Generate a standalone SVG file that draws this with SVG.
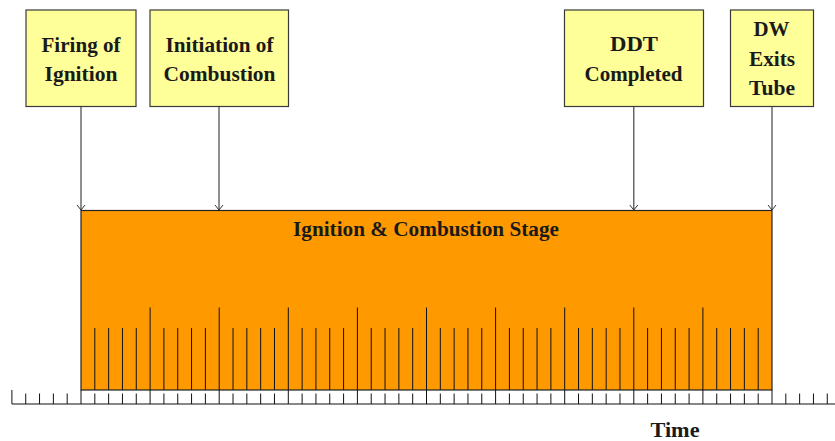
<svg xmlns="http://www.w3.org/2000/svg" width="835" height="441" viewBox="0 0 835 441">
  <style>
    .box { fill: #ffff99; stroke: #3a3a3a; stroke-width: 1.2; }
    .lbl { font-family: "Liberation Serif", "Times New Roman", serif; font-weight: bold; font-size: 21px; fill: #1a1a1a; text-anchor: middle; }
    .conn { stroke: #333; stroke-width: 1.1; fill: none; }
    .tick { stroke: #111; stroke-width: 1; fill: none; }
    .stage { fill: #ff9900; stroke: #222; stroke-width: 1.2; }
  </style>
  <defs>
    <marker id="vhead" markerUnits="userSpaceOnUse" markerWidth="8" markerHeight="10" refX="5" refY="0" viewBox="-1 -5 7 10" orient="auto">
      <path d="M0,-4 L5,0 L0,4" fill="none" stroke="#333" stroke-width="1"/>
    </marker>
  </defs>
  <rect width="835" height="441" fill="#ffffff"/>

  <!-- stage bar -->
  <g id="stage">
    <rect class="stage" x="81" y="210.5" width="691" height="179.5"/>
    <text class="lbl" x="426" y="236" textLength="266" lengthAdjust="spacingAndGlyphs">Ignition &amp; Combustion Stage</text>
    <!-- major ticks inside the bar -->
    <path class="tick" d="M150.1 307.5V390M219.2 307.5V390M288.3 307.5V390M357.4 307.5V390M426.5 307.5V390M495.6 307.5V390M564.7 307.5V390M633.8 307.5V390M702.9 307.5V390"/>
    <!-- minor ticks inside the bar -->
    <path class="tick" d="M94.82 328V390M108.64 328V390M122.46 328V390M136.28 328V390M163.92 328V390M177.74 328V390M191.56 328V390M205.38 328V390M233.02 328V390M246.84 328V390M260.66 328V390M274.48 328V390M302.12 328V390M315.94 328V390M329.76 328V390M343.58 328V390M371.22 328V390M385.04 328V390M398.86 328V390M412.68 328V390M440.32 328V390M454.14 328V390M467.96 328V390M481.78 328V390M509.42 328V390M523.24 328V390M537.06 328V390M550.88 328V390M578.52 328V390M592.34 328V390M606.16 328V390M619.98 328V390M647.62 328V390M661.44 328V390M675.26 328V390M689.08 328V390M716.72 328V390M730.54 328V390M744.36 328V390M758.18 328V390"/>
  </g>

  <!-- time axis -->
  <g id="axis">
    <path class="tick" d="M12 404H835"/>
    <path class="tick" d="M11.9 390V404M81 390V404M150.1 390V404M219.2 390V404M288.3 390V404M357.4 390V404M426.5 390V404M495.6 390V404M564.7 390V404M633.8 390V404M702.9 390V404M772 390V404"/>
    <path class="tick" d="M25.72 393.5V404M39.54 393.5V404M53.36 393.5V404M67.18 393.5V404M94.82 393.5V404M108.64 393.5V404M122.46 393.5V404M136.28 393.5V404M163.92 393.5V404M177.74 393.5V404M191.56 393.5V404M205.38 393.5V404M233.02 393.5V404M246.84 393.5V404M260.66 393.5V404M274.48 393.5V404M302.12 393.5V404M315.94 393.5V404M329.76 393.5V404M343.58 393.5V404M371.22 393.5V404M385.04 393.5V404M398.86 393.5V404M412.68 393.5V404M440.32 393.5V404M454.14 393.5V404M467.96 393.5V404M481.78 393.5V404M509.42 393.5V404M523.24 393.5V404M537.06 393.5V404M550.88 393.5V404M578.52 393.5V404M592.34 393.5V404M606.16 393.5V404M619.98 393.5V404M647.62 393.5V404M661.44 393.5V404M675.26 393.5V404M689.08 393.5V404M716.72 393.5V404M730.54 393.5V404M744.36 393.5V404M758.18 393.5V404M785.82 393.5V404M799.64 393.5V404M813.46 393.5V404M827.28 393.5V404"/>
    <text class="lbl" x="675" y="437" textLength="49" lengthAdjust="spacingAndGlyphs">Time</text>
  </g>

  <!-- event boxes -->
  <g id="firing">
    <rect class="box" x="26" y="10" width="110" height="96.5"/>
    <text class="lbl" x="81" y="51.5" textLength="79" lengthAdjust="spacingAndGlyphs">Firing of</text>
    <text class="lbl" x="81" y="81" textLength="73" lengthAdjust="spacingAndGlyphs">Ignition</text>
  </g>
  <g id="initiation">
    <rect class="box" x="150" y="10" width="138.5" height="96.5"/>
    <text class="lbl" x="219.5" y="51.5" textLength="108" lengthAdjust="spacingAndGlyphs">Initiation of</text>
    <text class="lbl" x="219.5" y="81" textLength="112" lengthAdjust="spacingAndGlyphs">Combustion</text>
  </g>
  <g id="ddt">
    <rect class="box" x="564.5" y="10" width="139" height="96.5"/>
    <text class="lbl" x="634" y="50.5" textLength="48" lengthAdjust="spacingAndGlyphs">DDT</text>
    <text class="lbl" x="633.5" y="81" textLength="98" lengthAdjust="spacingAndGlyphs">Completed</text>
  </g>
  <g id="dw-exit">
    <rect class="box" x="730.5" y="10" width="83" height="96.5"/>
    <text class="lbl" x="771.5" y="35.5" textLength="36" lengthAdjust="spacingAndGlyphs">DW</text>
    <text class="lbl" x="772" y="65.5" textLength="46" lengthAdjust="spacingAndGlyphs">Exits</text>
    <text class="lbl" x="772" y="94.5" textLength="46" lengthAdjust="spacingAndGlyphs">Tube</text>
  </g>

  <!-- connectors from events to the stage bar -->
  <g id="connectors">
    <path class="conn" d="M81 106.5V210" marker-end="url(#vhead)"/>
    <path class="conn" d="M219 106.5V210" marker-end="url(#vhead)"/>
    <path class="conn" d="M633.8 106.5V210" marker-end="url(#vhead)"/>
    <path class="conn" d="M772 106.5V210" marker-end="url(#vhead)"/>
  </g>
</svg>
